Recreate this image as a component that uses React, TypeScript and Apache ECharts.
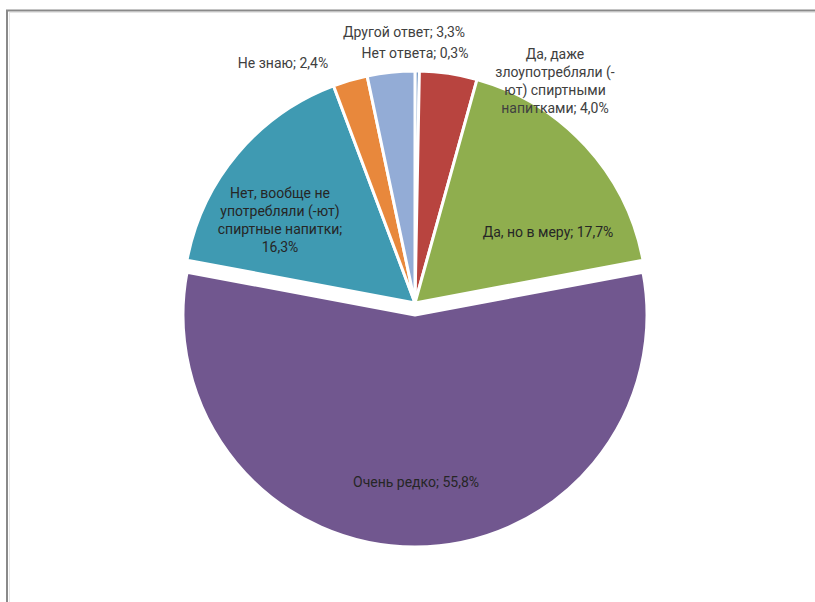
import React, { useEffect, useRef } from "react";
import * as echarts from "echarts";

const categories = [
  "Нет ответа",
  "Да, даже\nзлоупотребляли (-\nют) спиртными\nнапитками",
  "Да, но в меру",
  "Очень редко",
  "Нет, вообще не\nупотребляли (-ют)\nспиртные напитки;\n",
  "Не знаю",
  "Другой ответ",
];
const values = [0.3, 4.0, 17.7, 55.8, 16.3, 2.4, 3.3];
const colors = ["#4474B0", "#B8443F", "#8FAE4E", "#71578F", "#3F9AB2", "#E8883C", "#93ACD6"];
const explodedIndex = 3;

// label anchor points (chart pixels)
const labelAnchors: [number, number][] = [
  [415, 53],
  [555, 81],
  [548, 232],
  [416, 482],
  [280, 220],
  [283, 63],
  [404, 32],
];
const insideIdx = [2, 3, 4];

export default function App() {
  const ref = useRef<HTMLDivElement>(null);
  useEffect(() => {
    if (!ref.current) return;
    const chart = echarts.init(ref.current, null, { renderer: "svg" });
    const fmt = (v: number) => v.toFixed(1).replace(".", ",") + "%";
    const baseSeries = (center: [number, number], showIdx: (i: number) => boolean) => ({
      type: "pie",
      center,
      radius: 232,
      startAngle: 90,
      clockwise: true,
      avoidLabelOverlap: false,
      silent: true,
      emphasis: { disabled: true },
      labelLine: { show: false },
      label: {
        show: true,
        position: "inside",
        fontFamily: "Roboto",
        fontSize: 14,
        lineHeight: 18,
        align: "center",
        formatter: (p: any) => {
          const n = p.name as string;
          const sep = n.endsWith("\n") ? "" : "; ";
          return n + sep + fmt(p.value);
        },
      },
      labelLayout: (p: any) => {
        const a = labelAnchors[p.dataIndex];
        return { x: a[0], y: a[1], align: "center", verticalAlign: "middle" };
      },
      data: categories.map((c, i) => {
        const vis = showIdx(i);
        return {
          name: c,
          value: values[i],
          itemStyle: vis
            ? { color: colors[i], borderColor: "#ffffff", borderWidth: 3 }
            : { color: "rgba(0,0,0,0)", borderWidth: 0 },
          label: vis
            ? { show: true, color: insideIdx.includes(i) ? "#262626" : "#404040" }
            : { show: false },
        };
      }),
    });
    chart.setOption({
      animation: false,
      backgroundColor: "#ffffff",
      graphic: [
        { type: "line", shape: { x1: 6, y1: 10.5, x2: 815, y2: 10.5 }, style: { stroke: "#8a8a8a", lineWidth: 2 } },
        { type: "line", shape: { x1: 7, y1: 10, x2: 7, y2: 602 }, style: { stroke: "#8a8a8a", lineWidth: 2 } },
        { type: "line", shape: { x1: 9, y1: 12.5, x2: 815, y2: 12.5 }, style: { stroke: "#e6e6e6", lineWidth: 1 } },
        { type: "line", shape: { x1: 9.5, y1: 12, x2: 9.5, y2: 602 }, style: { stroke: "#e6e6e6", lineWidth: 1 } },
      ],
      series: [
        baseSeries([415, 303], (i) => i !== explodedIndex),
        baseSeries([415, 315], (i) => i === explodedIndex),
      ],
    });
    return () => chart.dispose();
  }, []);
  return (
    <div
      ref={ref}
      style={{ position: "fixed", left: 0, top: 0, width: 815, height: 602 }}
    />
  );
}
